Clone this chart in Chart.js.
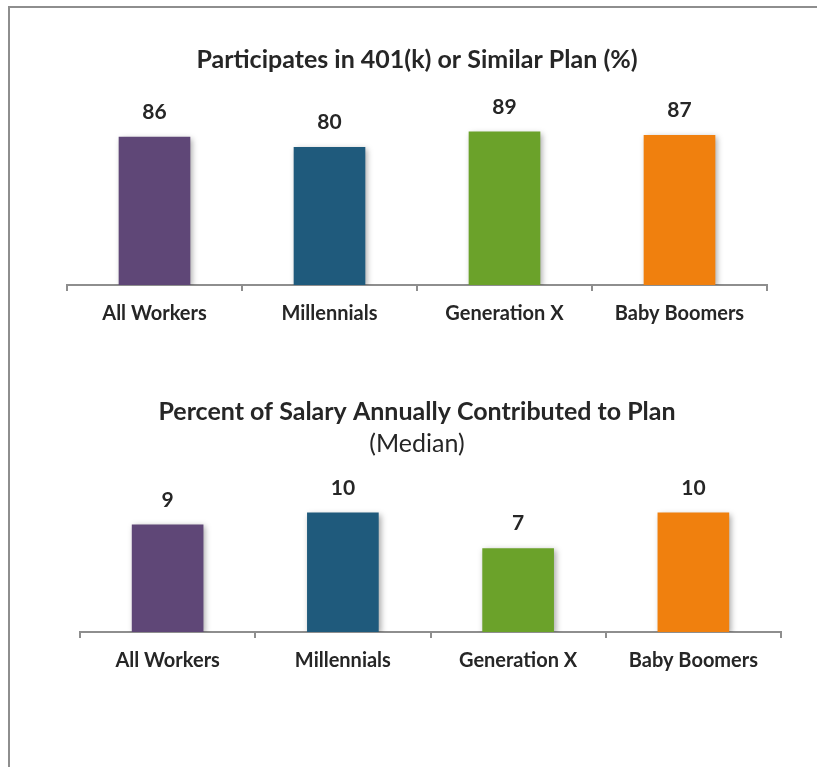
<!DOCTYPE html>
<html>
<head>
<meta charset="utf-8">
<script src="https://cdn.jsdelivr.net/npm/chart.js"></script>
<style>
  body { margin: 0; background: #fff; }
  #frame { position: absolute; left: 8px; top: 6px; width: 830px; height: 780px;
           border-left: 2px solid #8e8e8e; border-top: 2px solid #8e8e8e; }
  .box { position: absolute; left: 0; width: 817px; }
</style>
</head>
<body>
<div id="frame"></div>
<div class="box" style="top:0;height:360px"><canvas id="partChart" width="817" height="360"></canvas></div>
<div class="box" style="top:360px;height:407px"><canvas id="salaryChart" width="817" height="407"></canvas></div>
<script>
// categories and values
const groups = ['All Workers', 'Millennials', 'Generation X', 'Baby Boomers'];
const participation = [86, 80, 89, 87];
const salaryShare = [9, 10, 7, 10];
const barColors = ['#5f4777', '#1f5a7c', '#6ba22a', '#f0800e'];

const FONT = 'Lato, "Open Sans", sans-serif';
const TXT = '#262626';

// draws the number above each bar (and gives the bars a soft shadow)
const valueLabels = {
    id: 'valueLabels',
    beforeDatasetsDraw(chart) {
        const c = chart.ctx;
        c.save();
        c.shadowColor = 'rgba(0,0,0,0.35)';
        c.shadowBlur = 6;
        c.shadowOffsetX = 2;
        c.shadowOffsetY = 2;
    },
    afterDatasetsDraw(chart) {
        const c = chart.ctx;
        c.restore();
        c.save();
        c.font = 'bold 21px ' + FONT;
        c.fillStyle = TXT;
        c.textAlign = 'center';
        c.textBaseline = 'middle';
        const meta = chart.getDatasetMeta(0);
        meta.data.forEach((bar, i) => {
            c.fillText(chart.data.datasets[0].data[i], bar.x, bar.y - 25);
        });
        c.restore();
    }
};

function makeChart(id, values, yMax, yWidth, title, subtitle, pad) {
    return new Chart(document.getElementById(id).getContext('2d'), {
        type: 'bar',
        data: {
            labels: groups,
            datasets: [{
                data: values,
                backgroundColor: barColors,
                barThickness: 71
            }]
        },
        options: {
            responsive: false,
            animation: false,
            layout: { padding: pad.layout },
            plugins: {
                legend: { display: false },
                tooltip: { enabled: false },
                title: {
                    display: true,
                    text: title,
                    color: TXT,
                    font: { family: FONT, size: 25, weight: 'bold', lineHeight: 1.2 },
                    padding: pad.title
                },
                subtitle: {
                    display: !!subtitle,
                    text: subtitle || '',
                    color: TXT,
                    font: { family: FONT, size: 25, weight: 'normal', lineHeight: 1.2 },
                    padding: pad.subtitle
                }
            },
            scales: {
                // invisible y axis, only used to shift the plot relative to the title
                y: {
                    display: yWidth > 0, min: 0, max: yMax,
                    afterFit(scale) { scale.width = yWidth; },
                    ticks: { display: false },
                    grid: { display: false },
                    border: { display: false }
                },
                x: {
                    afterFit(scale) { scale.height = 45; },
                    border: { display: true, color: '#8e8e8e', width: 2 },
                    grid: { offset: true, drawOnChartArea: false, drawTicks: true,
                            tickLength: 6, color: '#8e8e8e', lineWidth: 2 },
                    ticks: { color: TXT, padding: 11,
                             font: { family: FONT, size: 20, weight: 'bold' } }
                }
            }
        },
        plugins: [valueLabels]
    });
}

makeChart('partChart', participation, 100, 0,
    'Participates in 401(k) or Similar Plan (%)', null,
    { layout: { left: 67, right: 50, top: 0, bottom: 30 },
      title: { top: 45, bottom: 38 }, subtitle: { top: 0, bottom: 0 } });

makeChart('salaryChart', salaryShare, 12, 27,
    'Percent of Salary Annually Contributed to Plan', '(Median)',
    { layout: { left: 53, right: 36, top: 0, bottom: 90 },
      title: { top: 37, bottom: 2 }, subtitle: { top: 0, bottom: 30 } });
</script>
</body>
</html>
